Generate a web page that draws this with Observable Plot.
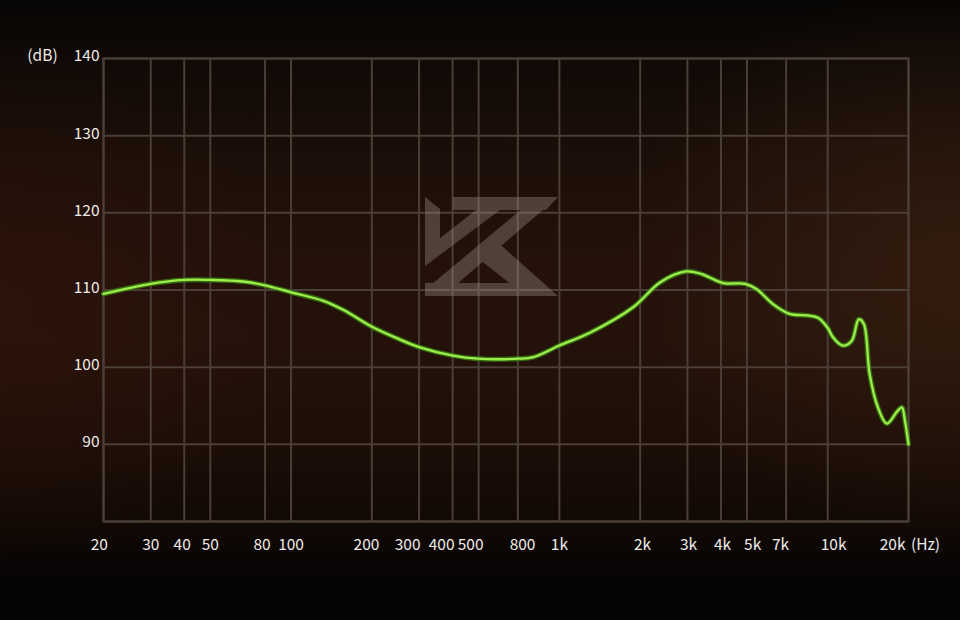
<!DOCTYPE html>
<html>
<head>
<meta charset="utf-8">
<script src="https://cdn.jsdelivr.net/npm/d3@7"></script>
<script src="https://cdn.jsdelivr.net/npm/@observablehq/plot@0.6"></script>
<style>
  html, body { margin: 0; padding: 0; background: #050403; }
  #wrap {
    position: relative; width: 960px; height: 620px; overflow: hidden;
    background:
      radial-gradient(ellipse 35% 45% at 100% 42%, rgba(80,48,24,0.35), rgba(80,48,24,0) 100%),
      radial-gradient(ellipse 30% 40% at 0% 50%, rgba(60,22,10,0.35), rgba(60,22,10,0) 100%),
      linear-gradient(180deg, #060504 0%, #0f0906 8%, #1b0e08 24%, #23110a 42%, #24120a 55%, #1d0e07 70%, #120905 84%, #060404 93%, #040303 100%);
  }
  #logo { position: absolute; left: 0; top: 0; pointer-events: none; }
</style>
</head>
<body>
<div id="wrap"></div>
<script>
// Frequency response data (Hz, dB)
const freqs = [20, 30, 40, 50, 66, 80, 100, 132, 157, 201, 250, 300, 401, 497, 703, 800, 1000, 1305, 1888, 2377, 2958, 3368, 4083, 4923, 5440, 6235, 7213, 8413, 9197, 9991, 10450, 11370, 12280, 13050, 13630, 14330, 15380, 16610, 18090, 18890, 19390, 20000];
const levels = [109.5, 110.8, 111.3, 111.3, 111.1, 110.6, 109.7, 108.6, 107.4, 105.2, 103.7, 102.6, 101.5, 101.1, 101.1, 101.3, 102.8, 104.5, 107.8, 111.0, 112.4, 112.1, 110.9, 110.8, 110.1, 108.2, 106.9, 106.7, 106.4, 105.1, 103.9, 102.8, 103.4, 106.2, 105.6, 99.1, 94.8, 92.7, 94.2, 94.8, 93.1, 90.0];

// Grid lines
const xGrid = [20, 30, 40, 50, 80, 100, 200, 300, 400, 500, 700, 1000, 2000, 3000, 4000, 5000, 7000, 10000, 20000];
const yGrid = [80, 90, 100, 110, 120, 130, 140];

// Tick labels (text and where they sit along the frequency axis in the reference)
const xTickLabels = ["20", "30", "40", "50", "80", "100", "200", "300", "400", "500", "800", "1k", "2k", "3k", "4k", "5k", "7k", "10k", "20k"];
const xTickLabelAt = [19.3, 30, 39.3, 50, 78, 100, 191, 272, 364, 467, 729, 1000, 2040, 3030, 4055, 5250, 6670, 10520, 17450];
const yTicks = [90, 100, 110, 120, 130, 140];

const curve = freqs.map((f, i) => ({f, db: levels[i]}));
const xLabels = xTickLabels.map((t, i) => ({t, f: xTickLabelAt[i]}));

const gridColor = "#4a3e36";
const textColor = "#eeebe8";
const font = "'Noto Sans CJK SC', 'Noto Sans', sans-serif";

const chart = Plot.plot({
  width: 960,
  height: 620,
  marginLeft: 103,
  marginRight: 52,
  marginTop: 58,
  marginBottom: 99,
  x: {type: "log", domain: [20, 20000], axis: null},
  y: {domain: [80, 140], axis: null},
  style: {background: "transparent", color: textColor, fontFamily: font, fontSize: "15px"},
  marks: [
    Plot.ruleY(yGrid, {stroke: gridColor, strokeWidth: 2}),
    Plot.ruleX(xGrid, {stroke: gridColor, strokeWidth: 2}),
    Plot.frame({stroke: gridColor, strokeWidth: 2}),
    Plot.text(yTicks, {x: 20, y: d => d, text: d => String(d), textAnchor: "end", dx: -4, dy: -2, fill: textColor, fontSize: 15.5}),
    Plot.text(["(dB)"], {x: 20, y: 140, text: d => d, textAnchor: "middle", dx: -61, dy: -2, fill: textColor, fontSize: 15.5}),
    Plot.text(xLabels, {x: "f", y: 80, text: "t", textAnchor: "middle", dy: 24, fill: textColor, fontSize: 15.5}),
    Plot.text(["(Hz)"], {x: 20000, y: 80, text: d => d, textAnchor: "middle", dx: 17, dy: 24, fill: textColor, fontSize: 15.5}),
    Plot.line(curve, {x: "f", y: "db", curve: "catmull-rom", stroke: "#3c8c14", strokeWidth: 5, strokeOpacity: 0.75}),
    Plot.line(curve, {x: "f", y: "db", curve: "catmull-rom", stroke: "#9ded4c", strokeWidth: 2.3})
  ]
});

const wrap = document.getElementById("wrap");
wrap.appendChild(chart);

// Watermark logo (decoration)
const ns = "http://www.w3.org/2000/svg";
const logo = document.createElementNS(ns, "svg");
logo.setAttribute("id", "logo");
logo.setAttribute("width", 960);
logo.setAttribute("height", 620);
const g = document.createElementNS(ns, "g");
g.setAttribute("opacity", "0.36");
g.setAttribute("fill", "#a39489");
const polys = [
  "453,197 558,197 546,210 453,210",          // top bar
  "536,197 558,197 450,290 425,290",          // main diagonal
  "425,283 540,283 549,296 425,296",          // bottom bar
  "470,252 495,240 558,296 526,296",          // K leg
  "425,197 440,209 440,242 425,252",          // left stem
  "425,250 476,210 500,210 425,266"           // V arm
];
for (const p of polys) {
  const el = document.createElementNS(ns, "polygon");
  el.setAttribute("points", p);
  g.appendChild(el);
}
logo.appendChild(g);
wrap.appendChild(logo);
</script>
</body>
</html>
